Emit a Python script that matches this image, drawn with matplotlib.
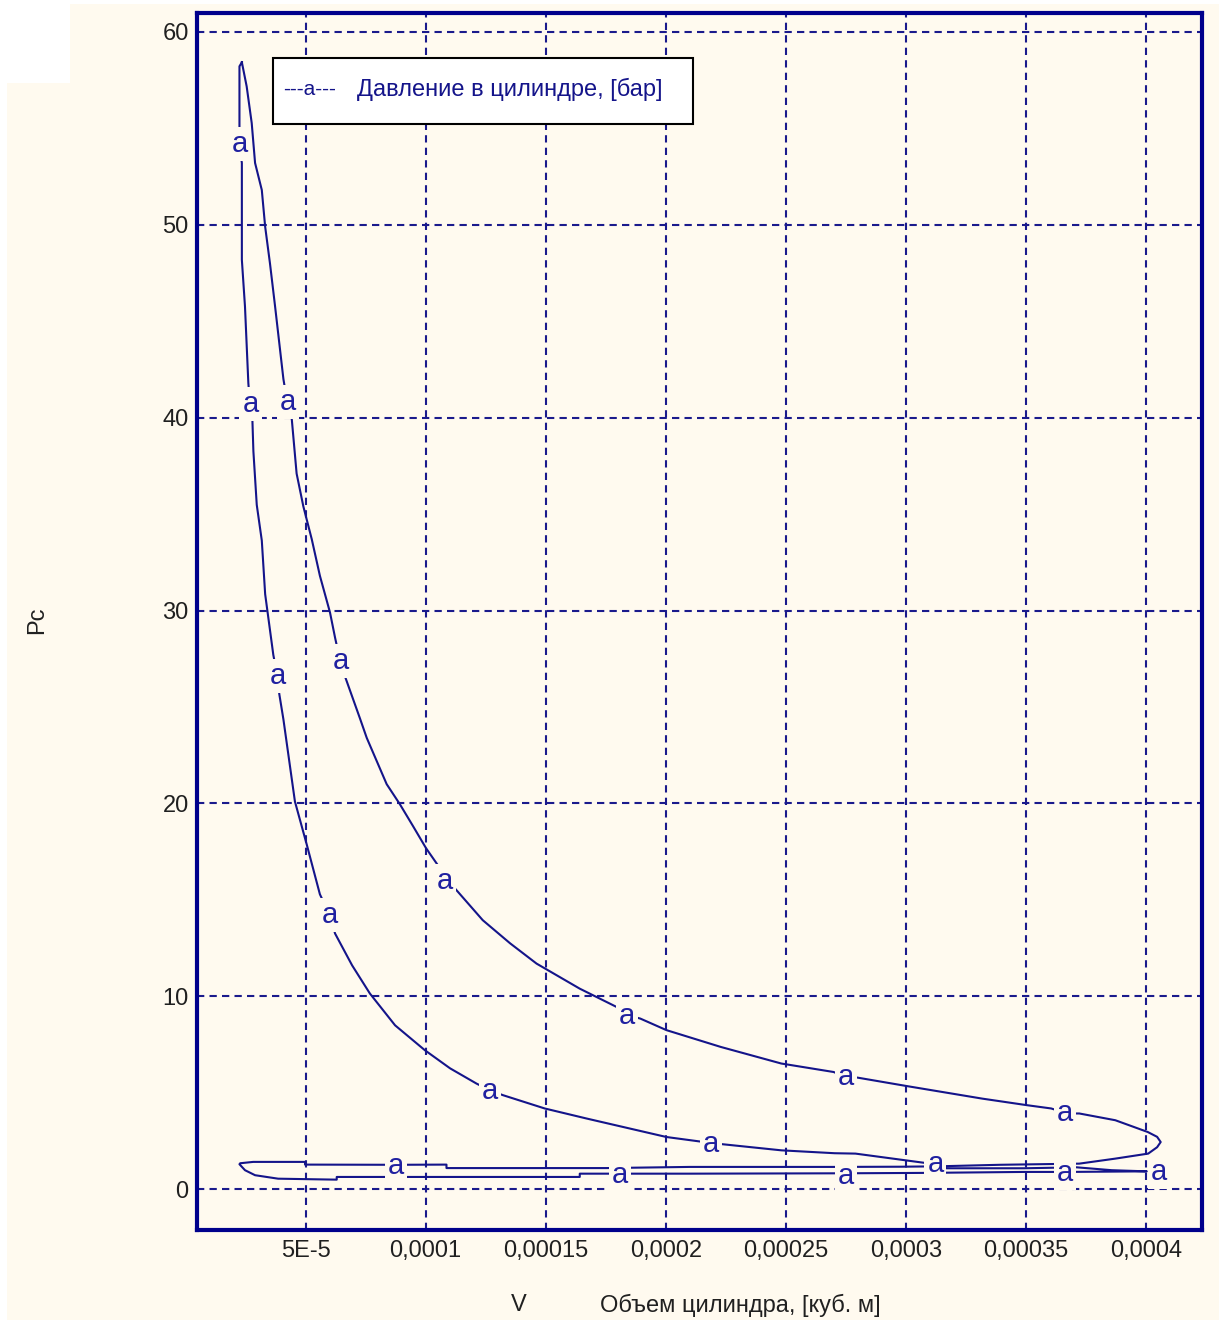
import numpy as np
import matplotlib
matplotlib.use('Agg')
import matplotlib.pyplot as plt
from matplotlib.patches import Rectangle

# p-V loop of the cylinder, V in 1e-6 m3, P in bar
# expansion: peak -> blow-down
exp_v = [23.5, 25.5, 27.6, 29.0, 31.8, 33.2, 35.2, 37.3, 39.4, 40.8, 42.4, 44.3, 46.3,
         49.1, 52.6, 56.0, 60.2, 62.3, 64.4, 66.4, 72.7, 75.5, 83.8, 89.3, 94.8, 100.2,
         106.0, 108.0, 112.2, 123.8, 135.2, 146.2, 164.2, 179.4, 184.2, 189.4, 200.3,
         222.9, 248.1, 269.9, 274.9, 279.8, 300.9, 331.8, 350.4, 360.5, 367.2, 372.2,
         387.2, 400.7, 404.6, 406.1, 404.6, 400.9, 387.2, 372.2]
exp_p = [58.42, 57.17, 55.27, 53.2, 51.8, 49.9, 48.0, 45.8, 43.5, 42.0, 40.8, 39.9, 37.1,
         35.4, 33.7, 31.8, 29.9, 28.6, 27.4, 26.6, 24.4, 23.4, 21.0, 19.96, 18.82, 17.68,
         16.64, 16.0, 15.6, 13.95, 12.75, 11.7, 10.4, 9.46, 9.02, 8.85, 8.25,
         7.38, 6.52, 6.08, 5.82, 5.79, 5.34, 4.70, 4.36, 4.19, 3.93, 3.93,
         3.58, 2.97, 2.72, 2.45, 2.18, 1.85, 1.59, 1.33]

# exhaust (going left)
exh_v = [355.6, 339.0, 313.1, 297.3, 270.3, 210.0, 175.3, 108.7, 108.7, 87.9, 49.8, 49.8,
         28.2, 22.8, 22.5]
exh_p = [1.30, 1.27, 1.19, 1.17, 1.16, 1.16, 1.10, 1.10, 1.28, 1.27, 1.28, 1.42,
         1.42, 1.35, 1.30]

# intake (going right)
int_v = [24.8, 29.0, 38.6, 63.0, 63.0, 92.1, 164.2, 164.2, 180.8, 210.0, 275.3, 307.7,
         349.3, 367.2, 400.3]
int_p = [0.99, 0.73, 0.55, 0.50, 0.64, 0.64, 0.64, 0.81, 0.81, 0.81, 0.83, 0.85,
         0.90, 0.90, 0.93]

# compression: BDC -> peak
cmp_v = [400.3, 385.7, 371.0, 349.3, 316.9, 309.0, 279.0, 270.3, 248.1, 219.5, 200.3,
         167.0, 149.6, 132.2, 126.8, 121.2, 110.2, 99.7, 87.3, 76.8, 69.4, 62.3, 60.2,
         56.0, 50.5, 45.6, 43.5, 40.8, 39.1, 38.3, 36.6, 35.2, 33.2, 31.8, 29.7, 28.3,
         27.9, 26.9, 26.2, 24.8, 23.5, 23.5, 22.5, 22.5, 22.5, 23.5]
cmp_p = [0.93, 0.99, 1.14, 1.09, 1.09, 1.35, 1.85, 1.87, 2.02, 2.39, 2.71,
         3.67, 4.19, 4.88, 5.13, 5.48, 6.27, 7.21, 8.50, 10.15, 11.61, 13.26, 14.18,
         15.29, 17.88, 20.1, 21.96, 24.36, 25.66, 26.59, 27.7, 28.99, 30.85, 33.63, 35.48, 38.26,
         39.83, 40.66, 41.79, 45.76, 48.18, 53.2, 54.06, 55.19, 58.21, 58.42]

# "a" point labels of the series
lab_v = [22.8, 27.1, 42.7, 38.6, 64.8, 60.2, 108.0, 126.8, 183.8, 218.7, 274.9, 366.4,
         87.6, 180.8, 274.9, 312.3, 366.4, 405.3]
lab_p = [54.2, 40.7, 40.8, 26.6, 27.4, 14.2, 16.0, 5.08, 8.97, 2.33, 5.81, 3.94,
         1.19, 0.73, 0.67, 1.30, 0.83, 0.88]

xticks = [5e-5, 1e-4, 1.5e-4, 2e-4, 2.5e-4, 3e-4, 3.5e-4, 4e-4]
xticklabels = ['5E-5', '0,0001', '0,00015', '0,0002', '0,00025', '0,0003', '0,00035', '0,0004']
yticks = [0, 10, 20, 30, 40, 50, 60]

series_name = 'Давление в цилиндре, [бар]'

bg = '#FFFAEF'
navy = '#14148A'
plt.rcParams['font.family'] = ['Liberation Sans', 'DejaVu Sans']

W, H = 1219, 1327
fig = plt.figure(figsize=(W / 100, H / 100), dpi=100, facecolor='white')
# cream panel behind the chart (white notch at the top-left corner)
fig.patches.append(Rectangle((7 / W, 1 - 1320 / H), 1 - 7 / W, (1320 - 83) / H,
                             transform=fig.transFigure, fc=bg, ec='none', zorder=-5))
fig.patches.append(Rectangle((70 / W, 1 - 83 / H), 1 - 70 / W, (83 - 4) / H,
                             transform=fig.transFigure, fc=bg, ec='none', zorder=-5))

ax = fig.add_axes([197 / W, 1 - 1230 / H, 1005 / W, (1230 - 12.5) / H])
ax.set_facecolor(bg)

v = np.concatenate([exp_v, exh_v, int_v, cmp_v]) * 1e-6
p = np.concatenate([exp_p, exh_p, int_p, cmp_p])
ax.plot(v, p, color=navy, lw=1.5, zorder=2)

for lv, lp in zip(lab_v, lab_p):
    ax.text(lv * 1e-6, lp, 'a', ha='center', va='center', fontsize=21, color='#2020A0',
            zorder=3, bbox=dict(boxstyle='square,pad=0.1', fc=bg, ec='none'))

ax.set_xlim(4.82e-6, 423.3e-6)
ax.set_ylim(-2.11, 61.0)
ax.set_xticks(xticks)
ax.set_xticklabels(xticklabels)
ax.set_yticks(yticks)
ax.tick_params(length=0, labelsize=17, labelcolor='#202020')
ax.tick_params(axis='x', pad=7)
ax.tick_params(axis='y', pad=6)
ax.set_axisbelow(True)
ax.grid(True, color='#1A1A8C', lw=1.5, linestyle=(0, (3.5, 2.5)))
for s in ax.spines.values():
    s.set_color('#00008C')
    s.set_linewidth(3)

# legend box
ax.add_patch(Rectangle((0.0756, 0.9084), 0.4179, 0.0542, transform=ax.transAxes,
                       fc='white', ec='black', lw=1.5, zorder=5))
ax.text(0.0856, 0.9365, '---a---', transform=ax.transAxes, ha='left', va='center',
        fontsize=15, color=navy, zorder=6)
ax.text(0.1592, 0.9365, series_name, transform=ax.transAxes, ha='left', va='center',
        fontsize=17, color=navy, zorder=6)

fig.text(37 / W, 1 - 620 / H, 'Pc', rotation=90, ha='center', va='center',
         fontsize=17, color='#202020')
fig.text(519 / W, 1 - 1305 / H, 'V', ha='center', va='center', fontsize=17, color='#202020')
fig.text(600 / W, 1 - 1305 / H, 'Объем цилиндра, [куб. м]', ha='left', va='center',
         fontsize=17, color='#202020')

fig.savefig('out.png', dpi=100, facecolor=fig.get_facecolor())
